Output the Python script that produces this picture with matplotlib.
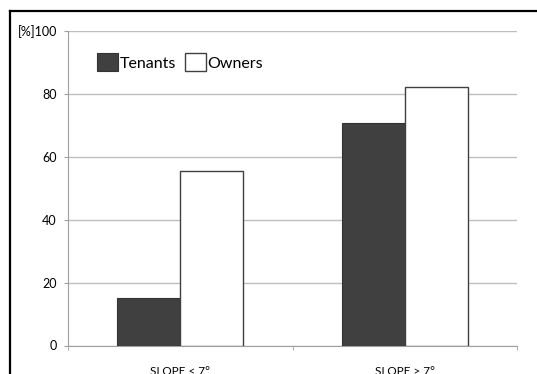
import numpy as np
import matplotlib.pyplot as plt
from matplotlib.lines import Line2D

# Datos
categorias = ['SLOPE < 7°', 'SLOPE > 7°']
tenants = [15.0, 70.6]
owners = [55.5, 82.1]
ticks_y = [0, 20, 40, 60, 80, 100]
etiquetas_y = ['0', '20', '40', '60', '80', '[%]100']

W, H = 537, 374
plt.rcParams['font.family'] = ['Lato', 'DejaVu Sans']

fig = plt.figure(figsize=(W / 100, H / 100), dpi=100)
ax = fig.add_axes([68 / W, 1 - 345.5 / H, (517 - 68) / W, (345.5 - 31) / H])

x = np.arange(len(categorias))
ancho = 0.28
ax.bar(x - ancho / 2, tenants, ancho, color='#404040', edgecolor='#333333', linewidth=0.8, label='Tenants', zorder=3)
ax.bar(x + ancho / 2, owners, ancho, color='white', edgecolor='#404040', linewidth=1.0, label='Owners', zorder=3)

ax.set_xlim(-0.5, 1.5)
ax.set_ylim(0, 100)
ax.set_yticks(ticks_y)
ax.set_yticklabels(etiquetas_y, fontsize=9)
ax.set_xticks(x)
ax.set_xticklabels(categorias, fontsize=8.5)
ax.set_xticks([-0.5, 0.5, 1.5], minor=True)
ax.tick_params(axis='x', which='major', length=0, pad=15)
ax.tick_params(axis='x', which='minor', length=3, color='#a0a0a0')
ax.tick_params(axis='y', length=3, color='#a0a0a0', pad=5)

ax.grid(axis='y', color='#bfbfbf', linewidth=1, zorder=0)
for lado in ['top', 'right']:
    ax.spines[lado].set_visible(False)
for lado in ['left', 'bottom']:
    ax.spines[lado].set_color('#a0a0a0')

fig.legend(loc='upper left', bbox_to_anchor=(97 / W, 1 - 53 / H), ncol=2, frameon=False,
           fontsize=11.5, handlelength=1.3, handleheight=1.4, handletextpad=0.1,
           columnspacing=0.6, borderpad=0, borderaxespad=0)

# Marco negro (solo izquierda y arriba visibles)
fig.add_artist(Line2D([10 / W, 10 / W], [0, 1 - 11 / H], color='black', linewidth=1.6))
fig.add_artist(Line2D([10 / W, 1], [1 - 11 / H, 1 - 11 / H], color='black', linewidth=1.6))

fig.savefig('out.png', dpi=100)
